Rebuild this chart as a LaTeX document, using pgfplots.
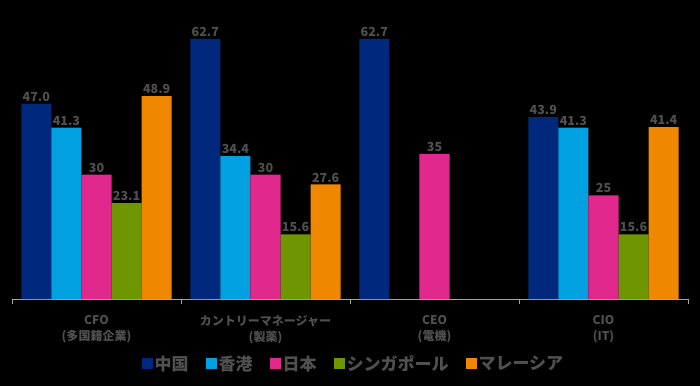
\documentclass[border=0pt]{standalone}
\usepackage{fontspec}
\setmainfont{Noto Sans CJK JP}
\usepackage{pgfplots}
\pgfplotsset{compat=1.18}
\definecolor{cCN}{RGB}{0,40,125}
\definecolor{cHK}{RGB}{0,160,225}
\definecolor{cJP}{RGB}{225,40,140}
\definecolor{cSG}{RGB}{110,150,0}
\definecolor{cMY}{RGB}{240,135,0}
\definecolor{txt}{RGB}{80,80,80}
\begin{document}
\begin{tikzpicture}
\fill[black] (0pt,0pt) rectangle (700pt,386pt);
\begin{axis}[
  at={(12pt,87pt)}, anchor=south west,
  scale only axis, width=676pt, height=290.5pt,
  xmin=-0.5, xmax=3.5, ymin=0, ymax=70,
  axis x line*=bottom, axis y line=none,
  x axis line style={draw=gray!70, line width=0.8pt},
  ybar=0pt, bar width=0.178,
  xtick={-0.5,0.5,1.5,2.5,3.5},
  x tick label as interval,
  xticklabels={{CFO\\(多国籍企業)},{カントリーマネージャー\\(製薬)},{CEO\\(電機)},{CIO\\(IT)}},
  x tick style={draw=gray!70, line width=0.8pt},
  major tick length=5pt, tick align=outside,
  xticklabel style={align=center, font=\fontsize{12}{16}\selectfont\bfseries, text=txt, yshift=-8pt},
  ytick=\empty,
  point meta=explicit symbolic,
  nodes near coords,
  every node near coord/.append style={font=\fontsize{12.5}{14}\selectfont\bfseries, text=txt, inner sep=2pt},
  legend columns=5,
  legend style={at={(0.505,-0.222)}, anchor=center, draw=none, fill=none,
    font=\fontsize{17}{19}\selectfont\bfseries, text=txt,
    /tikz/every even column/.append style={column sep=15pt},
    /tikz/every odd column/.append style={column sep=0pt},
    nodes={inner xsep=2pt}},
  legend image code/.code={\fill[#1] (0pt,-5.5pt) rectangle (11pt,5.5pt);},
]
\addplot[fill=cCN, draw=none] coordinates {(0,47.0)[47.0] (1,62.7)[62.7] (2,62.7)[62.7] (3,43.9)[43.9]};
\addplot[fill=cHK, draw=none] coordinates {(0,41.3)[41.3] (1,34.4)[34.4] (3,41.3)[41.3]};
\addplot[fill=cJP, draw=none] coordinates {(0,30)[30] (1,30)[30] (2,35)[35] (3,25)[25]};
\addplot[fill=cSG, draw=none] coordinates {(0,23.1)[23.1] (1,15.6)[15.6] (3,15.6)[15.6]};
\addplot[fill=cMY, draw=none] coordinates {(0,48.9)[48.9] (1,27.6)[27.6] (3,41.4)[41.4]};
\legend{中国,香港,日本,シンガポール,マレーシア}
\end{axis}
\end{tikzpicture}
\end{document}
